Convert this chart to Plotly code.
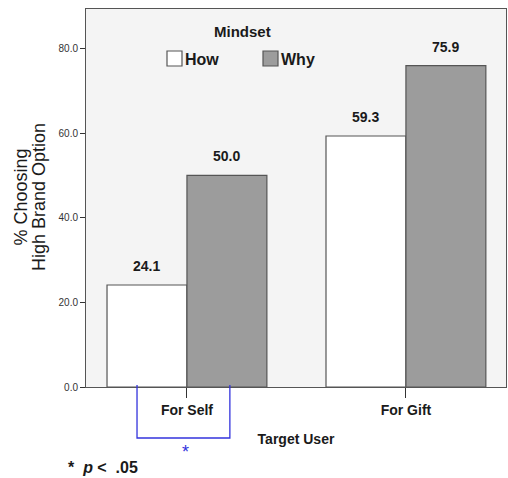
import plotly.graph_objects as go

categories = ["For Self", "For Gift"]
how_values = [24.1, 59.3]
why_values = [50.0, 75.9]
series_names = ["How", "Why"]
series_colors = ["#ffffff", "#9c9c9c"]
tick_vals = [0, 20, 40, 60, 80]
tick_text = ["0.0", "20.0", "40.0", "60.0", "80.0"]
y_title_lines = ["% Choosing", "High Brand Option"]

FONT = "Liberation Sans, Arial, sans-serif"
W, H = 508, 478
ML, MR, MT, MB = 86, 2, 9, 91
PW, PH = W - ML - MR, H - MT - MB
BARGAP = 0.27
EDGE = "#555555"


def px(x):
    return (x - ML) / PW


def py(y):
    return (H - MB - y) / PH


fig = go.Figure()
for name, vals, col in zip(series_names, [how_values, why_values], series_colors):
    fig.add_trace(go.Bar(
        name=name, x=categories, y=vals,
        marker=dict(color=col, line=dict(color=EDGE, width=1.2)),
        showlegend=False,
    ))

# value labels above bars
off = (1 - BARGAP) / 4
for k, vals in enumerate([how_values, why_values]):
    sgn = -1 if k == 0 else 1
    for i, v in enumerate(vals):
        fig.add_annotation(x=i + sgn * off, y=v, xref="x", yref="y",
                           text=f"<b>{v:.1f}</b>", showarrow=False,
                           yanchor="middle", yshift=19,
                           font=dict(family=FONT, size=14, color="#1a1a1a"))

fig.update_layout(
    width=W, height=H,
    margin=dict(l=ML, r=MR, t=MT, b=MB, autoexpand=False),
    paper_bgcolor="white", plot_bgcolor="#f4f4f4",
    barmode="group", bargap=BARGAP, bargroupgap=0,
    font=dict(family=FONT, color="#1a1a1a"),
    showlegend=False,
    xaxis=dict(
        range=[-0.461, 1.457], showgrid=False, automargin=False,
        showline=True, linecolor=EDGE, linewidth=1, mirror=True,
        ticks="outside", ticklen=10, tickcolor="#333333",
        tickfont=dict(family=FONT, size=14, color="#1a1a1a"),
        tickvals=categories, ticktext=[f"<b>{c}</b>" for c in categories],
        title=dict(text="<b>Target User</b>", standoff=17,
                   font=dict(family=FONT, size=14, color="#1a1a1a")),
    ),
    yaxis=dict(
        range=[0, 89.3], showgrid=False, zeroline=False, automargin=False,
        tickvals=tick_vals, ticktext=tick_text,
        showline=True, linecolor=EDGE, linewidth=1, mirror=True,
        ticks="outside", ticklen=5, tickcolor="#333333",
        tickfont=dict(family=FONT, size=10, color="#333333"),
    ),
)

# y-axis title, two tightly spaced lines
for line, lx in zip(y_title_lines, [20, 38.5]):
    fig.add_annotation(x=px(lx), y=py(197.5), xref="paper", yref="paper",
                       text=line, textangle=-90, showarrow=False,
                       xanchor="center", yanchor="middle",
                       font=dict(family=FONT, size=18, color="#1a1a1a"))

# legend (drawn by hand to match the original layout)
fig.add_annotation(x=px(242), y=py(32), xref="paper", yref="paper",
                   text="<b>Mindset</b>", showarrow=False,
                   xanchor="center", yanchor="middle",
                   font=dict(family=FONT, size=15, color="#1a1a1a"))
leg_x = [167, 263]
for name, col, lx in zip(series_names, series_colors, leg_x):
    fig.add_shape(type="rect", xref="paper", yref="paper",
                  x0=px(lx), x1=px(lx + 15), y0=py(66), y1=py(51),
                  fillcolor=col, line=dict(color=EDGE, width=1.2))
    fig.add_annotation(x=px(lx + 16), y=py(59), xref="paper", yref="paper",
                       text=f"<b>{name}</b>", showarrow=False,
                       xanchor="left", yanchor="middle",
                       font=dict(family=FONT, size=16, color="#1a1a1a"))

# significance bracket
x0, x1 = -0.228, 0.196
yb = py(438)
fig.add_shape(type="path", xref="x", yref="paper",
              path=f"M {x0} {py(385)} L {x0} {yb} L {x1} {yb} L {x1} {py(385)}",
              line=dict(color="#3333dd", width=1.3))
fig.add_annotation(x=(x0 + x1) / 2, y=py(452), xref="x", yref="paper",
                   text="*", showarrow=False, yanchor="middle", xshift=2,
                   font=dict(family=FONT, size=18, color="#3333dd"))
fig.add_annotation(x=px(66), y=py(468), xref="paper", yref="paper",
                   text="<b>*&nbsp;&nbsp;<i>p</i>&nbsp;&lt;&nbsp;&nbsp;.05</b>",
                   showarrow=False, xanchor="left", yanchor="middle",
                   font=dict(family=FONT, size=16, color="#1a1a1a"))

fig.write_html(
    "out.html",
    config={"displayModeBar": False},
    post_script="document.body.style.margin='0';document.body.style.overflow='hidden';",
)
